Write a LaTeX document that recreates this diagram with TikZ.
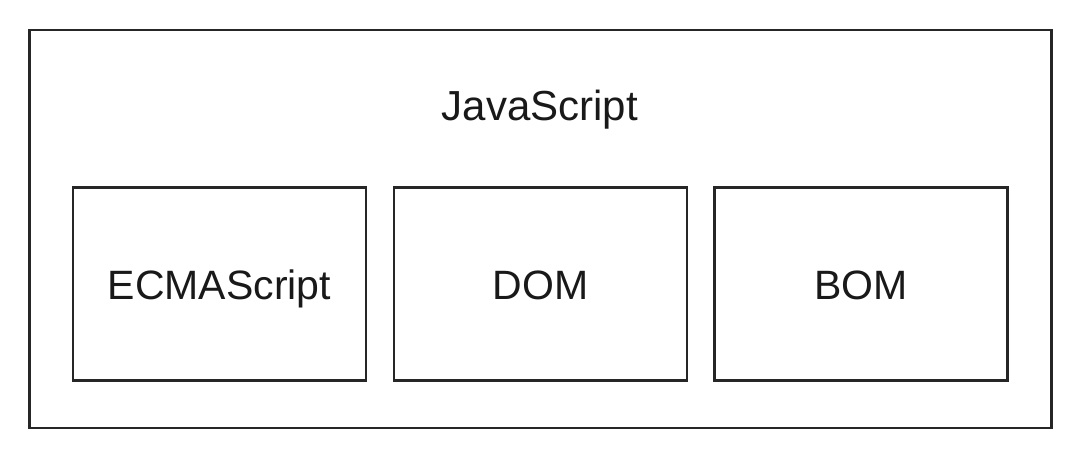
\documentclass[tikz,border=0pt]{standalone}
\usepackage{fontspec}
\setmainfont{Liberation Sans}
\begin{document}
\begin{tikzpicture}[x=1pt,y=-1pt,
  frame/.style={draw=black!85, line width=2.6pt},
  part/.style={frame, minimum width=293pt, minimum height=193pt, inner sep=0pt, text height=40pt, text depth=9pt, font=\fontsize{41}{48}\selectfont, text=black!90},
  title/.style={font=\fontsize{42}{50}\selectfont, text=black!90, inner sep=0pt, anchor=base}]
\useasboundingbox (0,0) rectangle (1084,452);
\node[frame, minimum width=1022pt, minimum height=398pt, inner sep=0pt] (js) at (540.5,229) {};
\node[title] (jst) at (540,120) {JavaScript};
\node[part] (ecma) at (219.5,284) {ECMAScript};
\node[part] (dom) at (540.5,284) {DOM};
\node[part] (bom) at (861,284) {BOM};
\end{tikzpicture}
\end{document}
